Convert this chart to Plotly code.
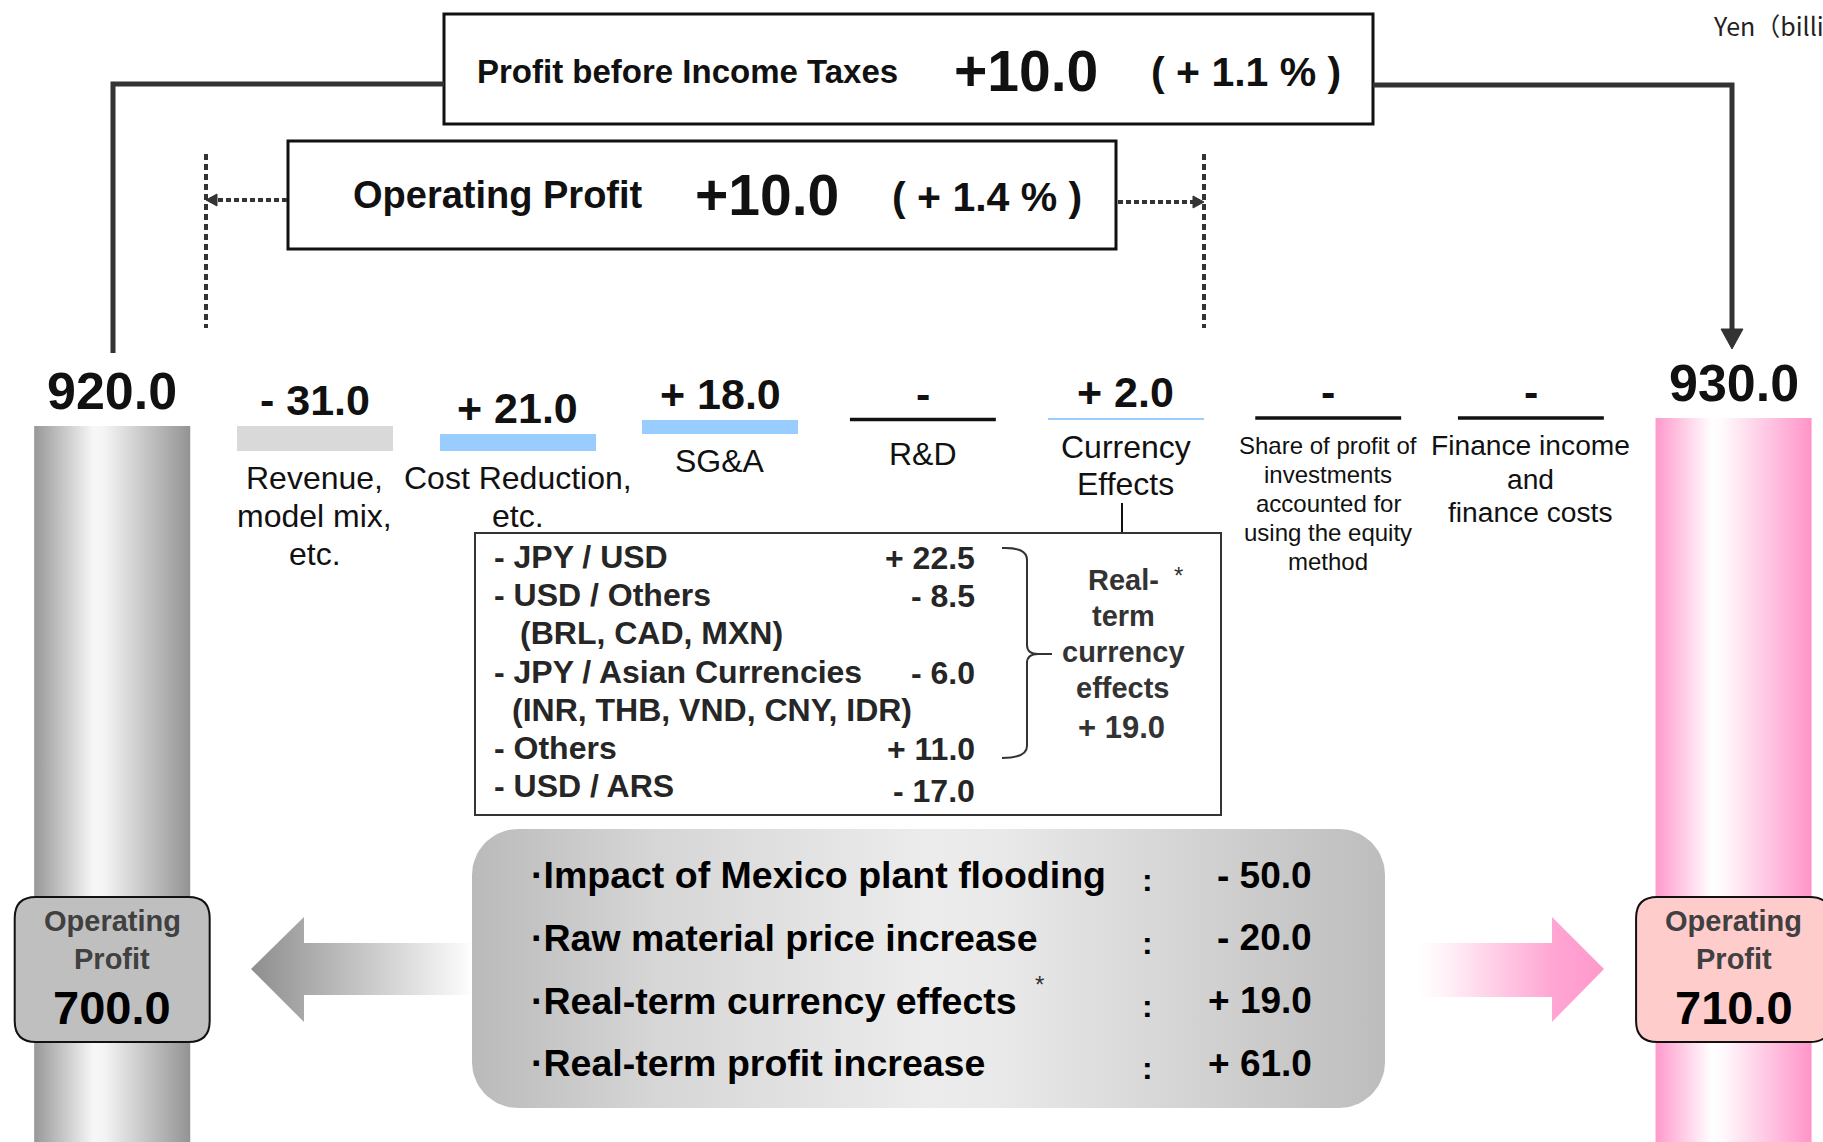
import numpy as np
import plotly.graph_objects as go

# ---------------- data ----------------
pillar_keys = ["Previous forecast", "Revised forecast"]
pillar_values = [920.0, 930.0]            # Profit before income taxes
pillar_op_values = [700.0, 710.0]         # Operating profit

step_keys = ["Revenue, model mix, etc.", "Cost Reduction, etc.", "SG&A", "R&D",
             "Currency Effects",
             "Share of profit of investments accounted for using the equity method",
             "Finance income and finance costs"]
step_label_lines = [
    ["Revenue,", "model mix,", "etc."],
    ["Cost Reduction,", "etc."],
    ["SG&A"],
    ["R&D"],
    ["Currency", "Effects"],
    ["Share of profit of", "investments", "accounted for", "using the equity", "method"],
    ["Finance income", "and", "finance costs"],
]
step_values = [-31.0, 21.0, 18.0, 0.0, 2.0, 0.0, 0.0]

pbt_change, pbt_change_pct = 10.0, 1.1
op_change, op_change_pct = 10.0, 1.4

fx_items = ["- JPY / USD", "- USD / Others", "- JPY / Asian Currencies", "- Others", "- USD / ARS"]
fx_item_notes = ["", "(BRL, CAD, MXN)", "(INR, THB, VND, CNY, IDR)", "", ""]
fx_values = [22.5, -8.5, -6.0, 11.0, -17.0]
real_fx_lines = ["Real-", "term", "currency", "effects"]
real_fx_value = 19.0

factor_names = ["Impact of Mexico plant flooding", "Raw material price increase",
                "Real-term currency effects", "Real-term profit increase"]
factor_values = [-50.0, -20.0, 19.0, 61.0]
factor_starred = [False, False, True, False]

unit_label = "Yen（billions）"

# ---------------- layout constants ----------------
W, H = 1823, 1142
FONT = "Liberation Sans, Arial, Helvetica, sans-serif"
X2_RANGE = [-0.5536, 8.4413]      # slot axis (one unit per column)
Y2_RANGE = [25.0, 1452.5]         # value axis
BAR_W = 0.77
INK = "#111111"
LINE = "#333333"

annotations = []
shapes = []


def signed(v):
    if v == 0:
        return "-"
    return ("+ " if v > 0 else "- ") + f"{abs(v):.1f}"


def txt(x, y, s, size, bold=False, color=INK, xanchor="center", yanchor="middle",
        xref="x", yref="y", yshift=0, family=FONT):
    annotations.append(dict(
        x=x, y=y, xref=xref, yref=yref, text=("<b>%s</b>" % s) if bold else s,
        showarrow=False, xanchor=xanchor, yanchor=yanchor, yshift=yshift,
        font=dict(family=family, size=size, color=color), borderpad=0))


def rounded_poly(x0, y0, x1, y1, r, n=18):
    xs, ys = [], []
    corners = [(x1 - r, y0 + r, -90, 0), (x1 - r, y1 - r, 0, 90),
               (x0 + r, y1 - r, 90, 180), (x0 + r, y0 + r, 180, 270)]
    for cx, cy, a0, a1 in corners:
        a = np.radians(np.linspace(a0, a1, n))
        xs.extend(cx + r * np.cos(a))
        ys.extend(cy + r * np.sin(a))
    xs.append(xs[0]); ys.append(ys[0])
    return xs, ys


def rr_path(x0, y0, x1, y1, rx, ry):
    return (f"M{x0 + rx},{y0} L{x1 - rx},{y0} Q{x1},{y0} {x1},{y0 + ry} "
            f"L{x1},{y1 - ry} Q{x1},{y1} {x1 - rx},{y1} L{x0 + rx},{y1} "
            f"Q{x0},{y1} {x0},{y1 - ry} L{x0},{y0 + ry} Q{x0},{y0} {x0 + rx},{y0} Z")


fig = go.Figure()

# ---------------- pillars (gradient columns) ----------------
pillar_slots = [0, len(step_values) + 1]
pillar_scales = [
    [[0, "#989898"], [0.38, "#f7f7f7"], [0.45, "#f4f4f4"], [1, "#939393"]],
    [[0, "#ff99cc"], [0.36, "#ffffff"], [0.44, "#fff8fb"], [1, "#ff94c9"]],
]
for slot, val, cs in zip(pillar_slots, pillar_values, pillar_scales):
    hw = BAR_W / 2
    fig.add_trace(go.Scatter(
        x=[slot - hw, slot + hw, slot + hw, slot - hw, slot - hw],
        y=[0, 0, val, val, 0], mode="lines", fill="toself",
        line=dict(width=0, color="rgba(0,0,0,0)"),
        fillgradient=dict(type="horizontal", colorscale=cs),
        xaxis="x2", yaxis="y2", hoverinfo="skip"))
    txt(slot, val, f"{val:.1f}", 52, bold=True, xref="x2", yref="y2", yshift=35)

# ---------------- waterfall steps ----------------
steps = np.array(step_values)
bases = pillar_values[0] + np.concatenate([[0.0], np.cumsum(steps)[:-1]])
tops = bases + steps
slots = np.arange(1, len(steps) + 1)
nz = steps != 0
fig.add_trace(go.Bar(
    x=slots[nz], y=steps[nz], base=bases[nz], width=BAR_W,
    marker=dict(color=["#d9d9d9" if v < 0 else "#99ccff" for v in steps[nz]],
                line=dict(width=0)),
    xaxis="x2", yaxis="y2", hoverinfo="skip"))
for s, b in zip(slots[~nz], bases[~nz]):
    shapes.append(dict(type="line", xref="x2", yref="y2", x0=s - 0.36, x1=s + 0.36,
                       y0=b, y1=b, line=dict(color=INK, width=3.5)))

# (font size, line gap, first-line offset below the bar)
label_style = {0: (32, 38, 27), 1: (32, 38, 27), 2: (32, 38, 27), 3: (32, 38, 34),
               4: (32, 37, 27), 5: (24, 29, 27), 6: (28.2, 33.5, 27)}
for k, (s, b, t, v) in enumerate(zip(slots, bases, tops, steps)):
    txt(s, max(b, t), signed(v), 43, bold=True, xref="x2", yref="y2", yshift=26)
    size, gap, off = label_style[k]
    for j, line in enumerate(step_label_lines[k]):
        txt(s, min(b, t), line, size, xref="x2", yref="y2", yshift=-(off + j * gap))

# ---------------- headline boxes ----------------
shapes.append(dict(type="rect", xref="x", yref="y", x0=444, y0=14, x1=1373, y1=124,
                   line=dict(color=INK, width=3), fillcolor="white"))
txt(476, 71, "Profit before Income Taxes", 33, bold=True, xanchor="left")
txt(1026, 71, f"+{pbt_change:.1f}", 57, bold=True)
txt(1246, 72, f"( + {pbt_change_pct:.1f} % )", 41, bold=True)

shapes.append(dict(type="rect", xref="x", yref="y", x0=288, y0=141, x1=1116, y1=249,
                   line=dict(color=INK, width=3), fillcolor="white"))
txt(352, 195, "Operating Profit", 38, bold=True, xanchor="left")
txt(767, 195, f"+{op_change:.1f}", 57, bold=True)
txt(987, 197, f"( + {op_change_pct:.1f} % )", 41, bold=True)

txt(1712, 25, unit_label, 25, color="#222", xanchor="left", family="Noto Sans CJK JP")

# solid connectors
shapes.append(dict(type="path", xref="x", yref="y", path="M444,84 L113,84 L113,353",
                   line=dict(color=LINE, width=5)))
shapes.append(dict(type="path", xref="x", yref="y", path="M1373,85 L1732,85 L1732,332",
                   line=dict(color=LINE, width=5)))
shapes.append(dict(type="path", xref="x", yref="y", path="M1721,329 L1743,329 L1732,349 Z",
                   line=dict(color=LINE, width=1), fillcolor=LINE))

# dotted range markers
for xv in (206, 1204):
    shapes.append(dict(type="line", xref="x", yref="y", x0=xv, x1=xv, y0=154, y1=328,
                       line=dict(color=LINE, width=4, dash="6px,4px")))
shapes.append(dict(type="line", xref="x", yref="y", x0=287, x1=214, y0=200, y1=200,
                   line=dict(color=LINE, width=4, dash="5px,3px")))
shapes.append(dict(type="path", xref="x", yref="y", path="M206,200 L217,194 L217,206 Z",
                   line=dict(color=LINE, width=1), fillcolor=LINE))
shapes.append(dict(type="line", xref="x", yref="y", x0=1118, x1=1195, y0=202, y1=202,
                   line=dict(color=LINE, width=4, dash="5px,3px")))
shapes.append(dict(type="path", xref="x", yref="y", path="M1204,202 L1193,196 L1193,208 Z",
                   line=dict(color=LINE, width=1), fillcolor=LINE))

# ---------------- currency breakdown box ----------------
shapes.append(dict(type="line", xref="x", yref="y", x0=1122, x1=1122, y0=503, y1=533,
                   line=dict(color=INK, width=2)))
shapes.append(dict(type="rect", xref="x", yref="y", x0=475, y0=533, x1=1221, y1=815,
                   line=dict(color=LINE, width=2), fillcolor="rgba(0,0,0,0)"))
fx_note_x = {1: 519, 2: 511}
row_y = 557.0
ROW = 38.2
for k, (name, note, v) in enumerate(zip(fx_items, fx_item_notes, fx_values)):
    txt(493, row_y, name, 32, bold=True, color="#262626", xanchor="left")
    txt(976, row_y + (5 if k == len(fx_items) - 1 else 1), signed(v), 32, bold=True,
        color="#262626", xanchor="right")
    row_y += ROW
    if note:
        txt(fx_note_x.get(k, 515), row_y, note, 32, bold=True, color="#262626", xanchor="left")
        row_y += ROW

shapes.append(dict(type="path", xref="x", yref="y",
                   path=("M1002,548 Q1027,547 1027,560 L1027,645 Q1027,654 1038,654 L1052,654 "
                         "M1038,654 Q1027,654 1027,663 L1027,746 Q1027,758 1002,758"),
                   line=dict(color=LINE, width=2)))
for j, line in enumerate(real_fx_lines):
    txt(1123, 580 + j * 36, line, 29, bold=True, color="#333")
txt(1121, 727, signed(real_fx_value), 31, bold=True, color="#333")
txt(1178, 575, "*", 24, color="#333")

# ---------------- bottom factor box & arrows ----------------
bx, by = rounded_poly(472, 829, 1385, 1108, 46)
fig.add_trace(go.Scatter(
    x=bx, y=by, mode="lines", fill="toself", line=dict(width=0, color="rgba(0,0,0,0)"),
    fillgradient=dict(type="horizontal",
                      colorscale=[[0, "#bababa"], [0.2, "#d6d6d6"], [0.5, "#ececec"],
                                  [0.58, "#e9e9e9"], [1, "#bdbdbd"]]),
    hoverinfo="skip"))
for k, (name, v, star) in enumerate(zip(factor_names, factor_values, factor_starred)):
    yy = 875 + k * 62.8
    txt(530, yy, "·" + name, 37.5, bold=True, color="#000", xanchor="left")
    txt(1147, yy + 5, ":", 32, bold=True, color="#000")
    txt(1313, yy, signed(v), 37, bold=True, color="#000", xanchor="right")
    if star:
        txt(1039, yy - 16, "*", 24, color="#333")

# left (grey) arrow
fig.add_trace(go.Scatter(
    x=[251, 304, 304, 469, 469, 304, 304, 251], y=[969, 917, 943, 943, 995, 995, 1022, 969],
    mode="lines", fill="toself", line=dict(width=0, color="rgba(0,0,0,0)"),
    fillgradient=dict(type="horizontal",
                      colorscale=[[0, "#8e8e8e"], [0.25, "#a9a9a9"], [1, "#fcfcfc"]]),
    hoverinfo="skip"))
# right (pink) arrow
fig.add_trace(go.Scatter(
    x=[1417, 1552, 1552, 1604, 1552, 1552, 1417, 1417], y=[943, 943, 917, 969, 1022, 997, 997, 943],
    mode="lines", fill="toself", line=dict(width=0, color="rgba(0,0,0,0)"),
    fillgradient=dict(type="horizontal",
                      colorscale=[[0, "#ffffff"], [0.12, "#fff6fa"], [0.72, "#ffa6d3"],
                                  [1, "#ff99cc"]]),
    hoverinfo="skip"))

# operating-profit badges on the pillars
badge_fills = ["#bfbfbf", "#ffcccc"]
badge_hw = 0.481
for slot, opv, fillc in zip(pillar_slots, pillar_op_values, badge_fills):
    shapes.append(dict(type="path", xref="x2", yref="y", layer="above",
                       path=rr_path(slot - badge_hw, 897, slot + badge_hw, 1042, 0.105, 21),
                       line=dict(color=INK, width=2), fillcolor=fillc))
    txt(slot, 921, "Operating", 29, bold=True, color="#404040", xref="x2")
    txt(slot, 959, "Profit", 29, bold=True, color="#404040", xref="x2")
    txt(slot, 1007, f"{opv:.1f}", 47, bold=True, color="#000", xref="x2")

# ---------------- layout ----------------
fig.update_layout(
    width=W, height=H, margin=dict(l=0, r=0, t=0, b=0),
    paper_bgcolor="white", plot_bgcolor="white", showlegend=False, hovermode=False,
    xaxis=dict(range=[0, W], visible=False, fixedrange=True),
    yaxis=dict(range=[H, 0], visible=False, fixedrange=True),
    xaxis2=dict(range=X2_RANGE, visible=False, overlaying="x", fixedrange=True),
    yaxis2=dict(range=Y2_RANGE, visible=False, overlaying="y", fixedrange=True),
    shapes=shapes, annotations=annotations, bargap=0,
)

fig.write_html("out.html", config={"displayModeBar": False, "staticPlot": True},
               post_script="document.body.style.margin='0';document.body.style.overflow='hidden';")
